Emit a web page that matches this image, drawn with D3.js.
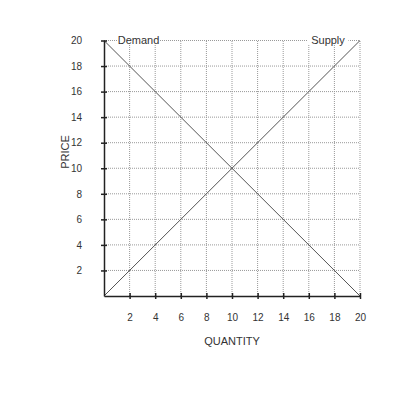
<html>
<head>
<meta charset="utf-8">
<script src="https://cdn.jsdelivr.net/npm/d3@7"></script>
<style>
  body { margin: 0; background: #fff; }
  text { font-family: Arial, "Liberation Sans", sans-serif; fill: #333; }
</style>
</head>
<body>
<svg id="chart" width="400" height="400"></svg>
<script>
// supply & demand
var xTicks = [2, 4, 6, 8, 10, 12, 14, 16, 18, 20];
var yTicks = [2, 4, 6, 8, 10, 12, 14, 16, 18, 20];
var demandQ = [0, 20];
var demandP = [20, 0];
var supplyQ = [0, 20];
var supplyP = [0, 20];
var curveNames = ["Demand", "Supply"];
var labelQ = [2.7, 17.5];   // where the curve names sit, in quantity units
var labelP = [20, 20];

var svg = d3.select("#chart");

var x = d3.scaleLinear().domain([0, 20]).range([104, 360]);
var y = d3.scaleLinear().domain([0, 20]).range([296, 40.5]);

// dotted grid
svg.append("g").selectAll("line")
    .data(xTicks).enter().append("line")
    .attr("x1", d => x(d)).attr("x2", d => x(d))
    .attr("y1", y(0)).attr("y2", y(20))
    .attr("stroke", "#999").attr("stroke-width", 1)
    .attr("stroke-dasharray", "1,1");

svg.append("g").selectAll("line")
    .data(yTicks).enter().append("line")
    .attr("y1", d => y(d)).attr("y2", d => y(d))
    .attr("x1", x(0)).attr("x2", x(20))
    .attr("stroke", "#999").attr("stroke-width", 1)
    .attr("stroke-dasharray", "1,1");

// curve names with white box behind
var labels = svg.append("g").selectAll("g")
    .data(curveNames).enter().append("g");
labels.append("rect")
    .attr("x", (d, i) => x(labelQ[i]) - d.length * 3.4)
    .attr("y", (d, i) => y(labelP[i]) - 6)
    .attr("width", d => d.length * 6.8)
    .attr("height", 10)
    .attr("fill", "#fff");
labels.append("text")
    .attr("x", (d, i) => x(labelQ[i]))
    .attr("y", (d, i) => y(labelP[i]) + 3.5)
    .attr("text-anchor", "middle")
    .style("font-size", "11px")
    .text(d => d);

// curves
var line = d3.line().x(d => x(d[0])).y(d => y(d[1]));
svg.append("path")
    .attr("d", line(demandQ.map((q, i) => [q, demandP[i]])))
    .attr("fill", "none").attr("stroke", "#555").attr("stroke-width", 1);
svg.append("path")
    .attr("d", line(supplyQ.map((q, i) => [q, supplyP[i]])))
    .attr("fill", "none").attr("stroke", "#555").attr("stroke-width", 1);

// axes
var xAxis = d3.axisBottom(x).tickValues(xTicks).tickSizeInner(3).tickSizeOuter(0).tickPadding(15);
var yAxis = d3.axisLeft(y).tickValues(yTicks).tickSizeInner(3).tickSizeOuter(0).tickPadding(19);

var gx = svg.append("g").attr("transform", "translate(0," + y(0) + ")").call(xAxis);
var gy = svg.append("g").attr("transform", "translate(" + x(0) + ",0)").call(yAxis);

[gx, gy].forEach(function(g) {
    g.select(".domain").attr("stroke", "#222").attr("stroke-width", 1.5);
    g.selectAll(".tick line").attr("stroke", "#222").attr("stroke-width", 1.5);
    g.selectAll(".tick text").style("font-size", "10px").attr("fill", "#333");
});
gx.selectAll(".tick line").attr("y1", -3);
gy.selectAll(".tick line").attr("x1", 3);

// axis titles
svg.append("text")
    .attr("x", 232).attr("y", 345)
    .attr("text-anchor", "middle")
    .style("font-size", "11px")
    .text("QUANTITY");
svg.append("text")
    .attr("transform", "translate(69,152) rotate(-90)")
    .attr("text-anchor", "middle")
    .style("font-size", "11px")
    .text("PRICE");
</script>
</body>
</html>
